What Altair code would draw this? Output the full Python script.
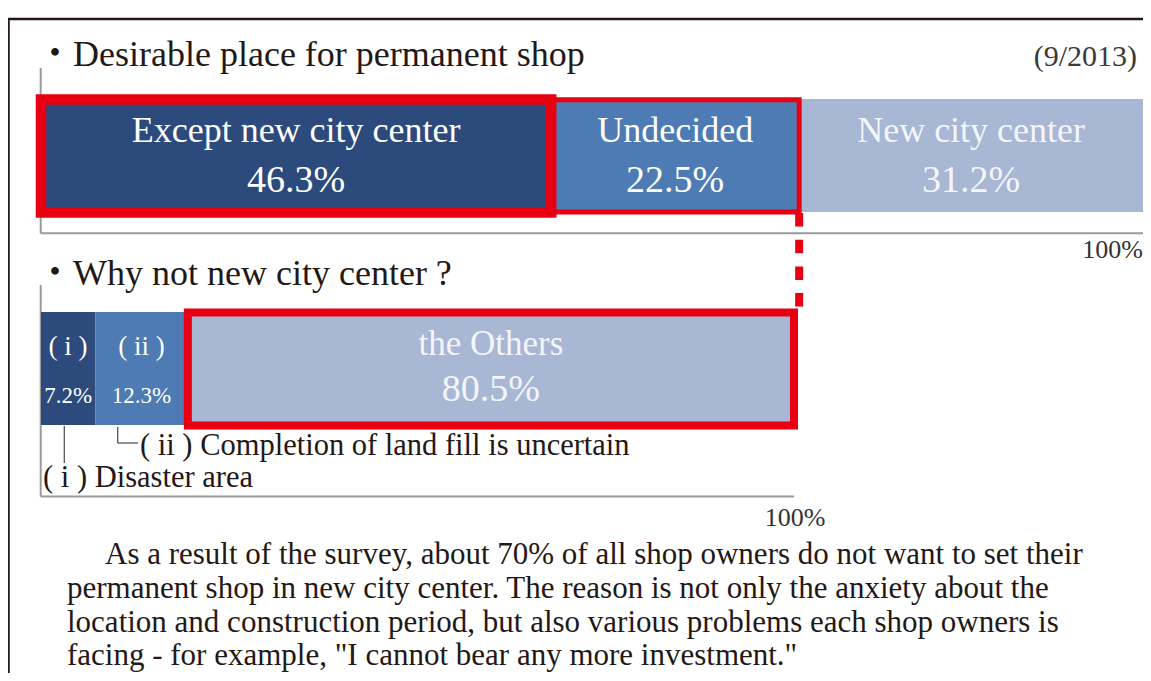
import altair as alt
import pandas as pd

# ---- data ----
top_categories = ["Except new city center", "Undecided", "New city center"]
top_values = [46.3, 22.5, 31.2]
bottom_categories = ["( i )", "( ii )", "the Others"]
bottom_values = [7.2, 12.3, 80.5]

title_top = "・Desirable place for permanent shop"
title_bottom = "・Why not new city center ?"
date_label = "(9/2013)"
axis_end_label = "100%"
note_i = "( i ) Disaster area"
note_ii = "( ii ) Completion of land fill is uncertain"
paragraph = [
    "As a result of the survey, about 70% of all shop owners do not want to set their",
    "permanent shop in new city center. The reason is not only the anxiety about the",
    "location and construction period, but also various problems each shop owners is",
    "facing - for example, \"I cannot bear any more investment.\"",
]

# ---- styles ----
FONT = "'Liberation Serif', 'Noto Sans CJK JP', serif"
BAR_COLORS = ["#2c4a7b", "#4e7bb3", "#a8b7d4"]
RED = "#e60012"
GRAY = "#9a9a9a"
INK = "#231815"


def stacked(cats, vals):
    df = pd.DataFrame({"category": cats, "value": vals})
    df["end"] = df["value"].cumsum()
    df["start"] = df["end"] - df["value"]
    df["mid"] = (df["start"] + df["end"]) / 2
    df["label"] = df["value"].map(lambda v: f"{v:.1f}%")
    return df


top_df = stacked(top_categories, top_values)
bot_df = stacked(bottom_categories, bottom_values)

xs_top = alt.Scale(domain=[0, 100], range=[33, 1135])
xs_bot = alt.Scale(domain=[0, 100], range=[33, 786])
one = pd.DataFrame({"k": [0]})


def rule(x, x2, y, y2, color, width, dash=None):
    kw = dict(color=color, strokeWidth=width, strokeCap="butt")
    if dash:
        kw["strokeDash"] = dash
    enc = dict(x=alt.value(x), y=alt.value(y))
    if x2 is not None:
        enc["x2"] = alt.value(x2)
    if y2 is not None:
        enc["y2"] = alt.value(y2)
    return alt.Chart(one).mark_rule(**kw).encode(**enc)


def label(text, x, y, size, color=INK, align="left"):
    return alt.Chart(pd.DataFrame({"t": [text]})).mark_text(
        font=FONT, fontSize=size, color=color, align=align, baseline="alphabetic"
    ).encode(x=alt.value(x), y=alt.value(y), text="t:N")


layers = []

# frame
layers.append(rule(0, 1135, 11, None, INK, 2.5))
layers.append(rule(0.5, None, 11, 665, INK, 2.5))

# gray axes
layers.append(rule(32.7, None, 60, 225.3, GRAY, 2))
layers.append(rule(32.7, 1135, 225.3, None, GRAY, 2))
layers.append(rule(32.7, None, 277, 488.5, GRAY, 2))
layers.append(rule(32.7, 786, 488.5, None, GRAY, 2))

# top bar
layers.append(
    alt.Chart(top_df).mark_rect().encode(
        x=alt.X("start:Q", scale=xs_top, axis=None),
        x2="end:Q",
        y=alt.value(91),
        y2=alt.value(204),
        color=alt.Color("category:N", scale=alt.Scale(domain=top_categories, range=BAR_COLORS), legend=None),
    )
)
# bottom bar
layers.append(
    alt.Chart(bot_df).mark_rect().encode(
        x=alt.X("start:Q", scale=xs_bot, axis=None),
        x2="end:Q",
        y=alt.value(304),
        y2=alt.value(417),
        color=alt.Color("category:N", scale=alt.Scale(domain=bottom_categories, range=BAR_COLORS), legend=None),
    )
)

# red highlight boxes
layers.append(
    alt.Chart(top_df[top_df["category"] == "Undecided"]).mark_rect(
        fillOpacity=0, stroke=RED, strokeWidth=5
    ).encode(x=alt.X("start:Q", scale=xs_top, axis=None), x2="end:Q", y=alt.value(91.8), y2=alt.value(204))
)
layers.append(
    alt.Chart(top_df[top_df["category"] == "Except new city center"]).mark_rect(
        fillOpacity=0, stroke=RED, strokeWidth=10.5
    ).encode(x=alt.X("start:Q", scale=xs_top, axis=None), x2="end:Q", y=alt.value(91.5), y2=alt.value(204.5))
)
layers.append(
    alt.Chart(bot_df[bot_df["category"] == "the Others"]).mark_rect(
        fillOpacity=0, stroke=RED, strokeWidth=8
    ).encode(x=alt.X("start:Q", scale=xs_bot, axis=None), x2="end:Q", y=alt.value(304.5), y2=alt.value(417.5))
)

# dashed connector at the end of "Undecided"
conn = pd.DataFrame({"x": [top_values[0] + top_values[1]]})
layers.append(
    alt.Chart(conn).mark_rule(color=RED, strokeWidth=8, strokeDash=[13.5, 13.2], strokeCap="butt").encode(
        x=alt.X("x:Q", scale=xs_top, axis=None), y=alt.value(205), y2=alt.value(300)
    )
)

# bar labels (top)
text_colors_top = ["#ffffff", "#ffffff", "#f4f5fa"]
layers.append(
    alt.Chart(top_df).mark_text(font=FONT, fontSize=36, baseline="alphabetic").encode(
        x=alt.X("mid:Q", scale=xs_top, axis=None),
        y=alt.value(134),
        text="category:N",
        color=alt.Color("category:N", scale=alt.Scale(domain=top_categories, range=text_colors_top), legend=None),
    )
)
layers.append(
    alt.Chart(top_df).mark_text(font=FONT, fontSize=38, baseline="alphabetic").encode(
        x=alt.X("mid:Q", scale=xs_top, axis=None),
        y=alt.value(184),
        text="label:N",
        color=alt.Color("category:N", scale=alt.Scale(domain=top_categories, range=text_colors_top), legend=None),
    )
)

# bar labels (bottom)
small = bot_df[bot_df["category"] != "the Others"]
big = bot_df[bot_df["category"] == "the Others"]
layers.append(
    alt.Chart(small).mark_text(font=FONT, fontSize=27, baseline="alphabetic", color="#ffffff").encode(
        x=alt.X("mid:Q", scale=xs_bot, axis=None), y=alt.value(347), text="category:N"
    )
)
layers.append(
    alt.Chart(small).mark_text(font=FONT, fontSize=23, baseline="alphabetic", color="#ffffff").encode(
        x=alt.X("mid:Q", scale=xs_bot, axis=None), y=alt.value(395), text="label:N"
    )
)
layers.append(
    alt.Chart(big).mark_text(font=FONT, fontSize=35, baseline="alphabetic", color="#f4f5fa").encode(
        x=alt.X("mid:Q", scale=xs_bot, axis=None), y=alt.value(347), text="category:N"
    )
)
layers.append(
    alt.Chart(big).mark_text(font=FONT, fontSize=38, baseline="alphabetic", color="#f4f5fa").encode(
        x=alt.X("mid:Q", scale=xs_bot, axis=None), y=alt.value(393), text="label:N"
    )
)

# leader lines for notes
layers.append(rule(56.3, None, 418, 455, "#555555", 1.3))
layers.append(rule(109.7, None, 419, 435, "#555555", 1.3))
layers.append(rule(109.7, 130, 435, None, "#555555", 1.3))

# titles and texts
layers.append(label(title_top, 29, 58, 36))
layers.append(label(date_label, 1129, 58, 30, color="#3a3a3a", align="right"))
layers.append(label(axis_end_label, 1135, 250, 26, color="#333333", align="right"))
layers.append(label(title_bottom, 29, 277, 36))
layers.append(label(note_ii, 132, 447, 30.5))
layers.append(label(note_i, 35, 479, 30.5))
layers.append(label(axis_end_label, 787, 518, 26, color="#333333", align="center"))

para_x = [97, 59, 59, 59]
para_y = [556, 590, 624, 657]
for line, px, py in zip(paragraph, para_x, para_y):
    layers.append(label(line, px, py, 31))

chart = (
    alt.layer(*layers)
    .resolve_scale(x="independent", color="independent")
    .properties(width=1135, height=665, autosize=alt.AutoSizeParams(type="none"), padding=0)
    .configure_view(stroke=None)
)

chart.save("out.html", embed_options={"renderer": "svg", "actions": False})
